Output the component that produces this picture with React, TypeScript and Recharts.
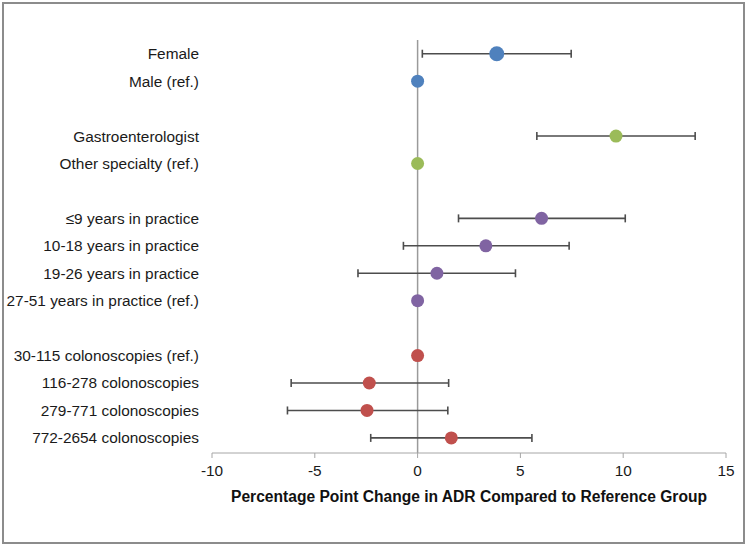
import {
  ScatterChart, Scatter, XAxis, YAxis, ErrorBar, ReferenceLine, Label,
} from "recharts";

const labels = [
  "Female",
  "Male (ref.)",
  "Gastroenterologist",
  "Other specialty (ref.)",
  "≤9 years in practice",
  "10-18 years in practice",
  "19-26 years in practice",
  "27-51 years in practice (ref.)",
  "30-115 colonoscopies (ref.)",
  "116-278 colonoscopies",
  "279-771 colonoscopies",
  "772-2654 colonoscopies",
];
const groups = [0, 0, 1, 1, 2, 2, 2, 2, 3, 3, 3, 3];
const estimates = [3.85, 0, 9.65, 0, 6.03, 3.32, 0.94, 0, 0, -2.35, -2.46, 1.64];
const lower = [0.23, 0, 5.8, 0, 1.99, -0.69, -2.9, 0, 0, -6.15, -6.33, -2.28];
const upper = [7.47, 0, 13.5, 0, 10.1, 7.37, 4.76, 0, 0, 1.51, 1.47, 5.56];
const xTicks = [-10, -5, 0, 5, 10, 15];

const groupColors = ["#4F81BD", "#9BBB59", "#8064A2", "#C0504D"];
const FONT = '"Liberation Sans", Arial, sans-serif';

// one blank row between groups, top row highest
const rows = labels.map((label, i) => ({
  label,
  row: 15 - (i + groups[i]),
  est: estimates[i],
  err: [estimates[i] - lower[i], upper[i] - estimates[i]],
  color: groupColors[groups[i]],
  big: i === 0,
}));
const rowLabel = new Map(rows.map((r) => [r.row, r.label]));

function Dot(props: any) {
  const { cx, cy, payload } = props;
  return <circle cx={cx} cy={cy} r={payload.big ? 7.5 : 6.5} fill={payload.color} />;
}

export default function App() {
  return (
    <div style={{ position: "absolute", left: 0, top: 0, width: 750, height: 547, background: "#fff" }}>
      <div
        style={{
          position: "absolute", left: 2, top: 2, width: 743, height: 542,
          border: "2px solid #8c8c8c", boxSizing: "border-box",
        }}
      />
      <ScatterChart
        width={750}
        height={547}
        margin={{ top: 40, right: 24, left: 0, bottom: 44 }}
        style={{ fontFamily: FONT }}
      >
        <XAxis
          type="number"
          dataKey="est"
          domain={[-10, 15]}
          ticks={xTicks}
          interval={0}
          height={50}
          stroke="#a6a6a6"
          tickSize={5}
          tickMargin={7}
          tick={{ fontSize: 15.4, fill: "#1a1a1a", fontFamily: FONT }}
        >
          <Label
            value="Percentage Point Change in ADR Compared to Reference Group"
            position="insideBottom"
            offset={1}
            style={{ fontSize: 15.6, fontWeight: "bold", fill: "#111", fontFamily: FONT }}
          />
        </XAxis>
        <YAxis
          type="number"
          dataKey="row"
          domain={[0.45, 15.5]}
          ticks={rows.map((r) => r.row)}
          interval={0}
          width={212}
          axisLine={false}
          tickLine={false}
          tickSize={0}
          tickMargin={13}
          tickFormatter={(v: number) => rowLabel.get(v) ?? ""}
          tick={{ fontSize: 15.4, fill: "#1a1a1a", fontFamily: FONT }}
        />
        <ReferenceLine x={0} stroke="#9a9a9a" strokeWidth={1.5} />
        <Scatter data={rows} shape={<Dot />} isAnimationActive={false}>
          <ErrorBar dataKey="err" direction="x" width={4} stroke="#4d4d4d" strokeWidth={1.6} />
        </Scatter>
      </ScatterChart>
    </div>
  );
}
